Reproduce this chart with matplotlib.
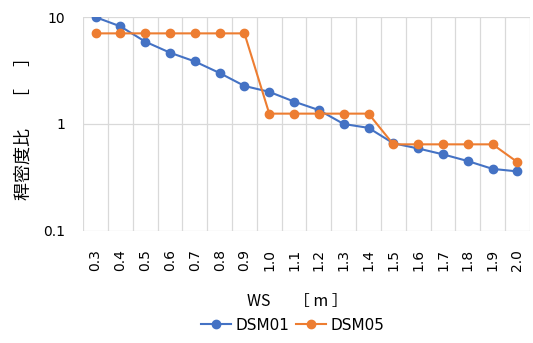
import numpy as np
import matplotlib.pyplot as plt

plt.rcParams['font.family'] = ['DejaVu Sans', 'Noto Sans CJK JP']
plt.rcParams['axes.unicode_minus'] = False

# データ
ws = ['0.3', '0.4', '0.5', '0.6', '0.7', '0.8', '0.9', '1.0', '1.1', '1.2',
      '1.3', '1.4', '1.5', '1.6', '1.7', '1.8', '1.9', '2.0']
dsm01 = [10.0, 8.2, 5.9, 4.65, 3.85, 3.0, 2.27, 2.0, 1.62, 1.35,
         1.0, 0.92, 0.66, 0.59, 0.52, 0.45, 0.38, 0.36]
dsm05 = [7.05, 7.05, 7.05, 7.05, 7.05, 7.05, 7.05, 1.25, 1.25, 1.25,
         1.25, 1.25, 0.645, 0.645, 0.645, 0.645, 0.645, 0.44]

fig = plt.figure(figsize=(5.33, 3.43), dpi=100)
ax = fig.add_axes([0.156, 0.327, 0.838, 0.623])

x = np.arange(len(ws))
ax.plot(x, dsm01, '-o', color='#4472C4', lw=1.5, ms=6, label='DSM01', zorder=3)
ax.plot(x, dsm05, '-o', color='#ED7D31', lw=1.5, ms=6, label='DSM05', zorder=3)

ax.set_yscale('log')
ax.set_ylim(0.1, 10)
ax.set_yticks([0.1, 1, 10])
ax.set_yticklabels(['0.1', '1', '10'])
ax.minorticks_off()
ax.set_xlim(-0.5, len(ws) - 0.5)
ax.set_xticks(x)
ax.set_xticklabels(ws, rotation=90)

# 目盛線（カテゴリ境界に縦線）
for b in np.arange(-0.5, len(ws), 1.0):
    ax.axvline(b, color='#D9D9D9', lw=0.9, zorder=0)
for yv in [0.1, 1, 10]:
    ax.axhline(yv, color='#D9D9D9', lw=0.9, zorder=0)

for s in ax.spines.values():
    s.set_visible(False)
ax.tick_params(length=0, labelsize=10, colors='#000000', pad=13)

ax.set_xlabel('WS  　［ m ］', fontsize=11.5, family=['Noto Sans CJK JP'])
ax.xaxis.set_label_coords(0.479, -0.29)
ax.set_ylabel('稈密度比　 ［　 ］', fontsize=13, family=['Noto Sans CJK JP'])
ax.yaxis.set_label_coords(-0.112, 0.50)

fig.legend(loc='center', bbox_to_anchor=(0.549, 0.052), ncol=2, frameon=False,
           fontsize=11, handlelength=2.0, handletextpad=0.3, columnspacing=0.4)

fig.savefig('out.png', dpi=100)
